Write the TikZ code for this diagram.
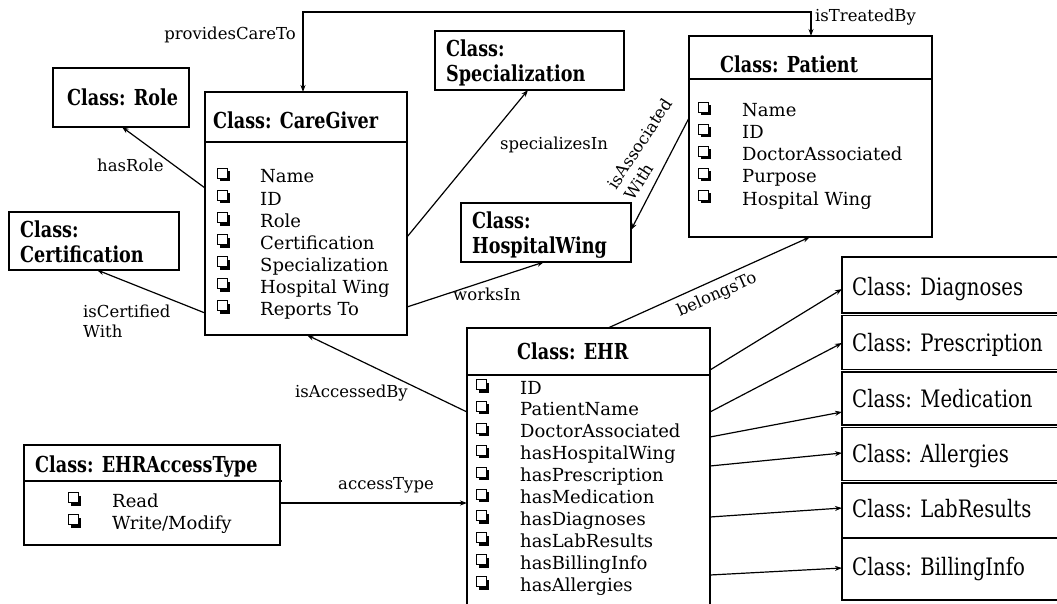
\documentclass[tikz,border=0pt]{standalone}
\usepackage{fontspec}
\setmainfont{DejaVu Serif}
\newfontfamily\tfont[FakeStretch=0.8]{DejaVu Serif}
\newfontfamily\rtfont[FakeStretch=0.82]{DejaVu Serif}
\usetikzlibrary{arrows.meta}
\newcommand{\bulletat}[2]{%
  \fill ({#1+3},{#2-11.5}) rectangle ({#1+13},{#2-1.5});
  \filldraw[fill=white, line width=1pt] ({#1+0.5},{#2-14.5}) rectangle ({#1+10.5},{#2-4.5});
}
\tikzset{
  box/.style={draw, line width=1.4pt, inner sep=0pt, outer sep=0pt, anchor=north west},
  ttl/.style={font=\tfont\bfseries\fontsize{22}{24}\selectfont, anchor=base west, inner sep=0pt},
  rttl/.style={font=\rtfont\fontsize{24}{26}\selectfont, anchor=base west, inner sep=0pt},
  item/.style={font=\fontsize{18}{22}\selectfont, anchor=base west, inner sep=0pt},
  lbl/.style={font=\fontsize{16.5}{20}\selectfont, inner sep=0pt},
  arr/.style={-{Stealth[length=7pt,width=5pt]}, line width=1.2pt},
  arrb/.style={{Stealth[length=7pt,width=5pt]}-{Stealth[length=7pt,width=5pt]}, line width=1.2pt},
  hline/.style={line width=1.4pt}
}
\begin{document}
\begin{tikzpicture}[x=1pt,y=-1pt]
\useasboundingbox (0,0) rectangle (1057,604);
\clip (0,0) rectangle (1057,604);

% ---- boxes ----
\node[box, minimum width=136pt, minimum height=59pt] (role) at (53,68) {};
\node[ttl] (roleT) at (67,106) {Class: Role};

\node[box, minimum width=170pt, minimum height=58pt] (cert) at (9,212) {};
\node[ttl] (certT1) at (20,237) {Class:};
\node[ttl] (certT2) at (20,262) {Certification};

\node[box, minimum width=202pt, minimum height=243pt] (cg) at (205,92) {};
\draw[hline] (cg.west |- 0,142) -- (cg.east |- 0,142);
\node[ttl] (cgT) at (213,129) {Class: CareGiver};
\foreach \t [count=\i] in {Name,ID,Role,Certification,Specialization,Hospital Wing,Reports To}{
  \pgfmathsetmacro\yy{161+22*\i}
  \bulletat{217}{\yy}
  \node[item] (cgi\i) at (260,\yy) {\t};
}

\node[box, minimum width=189pt, minimum height=59pt] (spec) at (435,31) {};
\node[ttl] (specT1) at (446,57) {Class:};
\node[ttl] (specT2) at (446,82) {Specialization};

\node[box, minimum width=170pt, minimum height=59pt] (hw) at (461,203) {};
\node[ttl] (hwT1) at (472,228) {Class:};
\node[ttl] (hwT2) at (472,253) {HospitalWing};

\node[box, minimum width=243pt, minimum height=201pt] (pat) at (689,36) {};
\draw[hline] (pat.west |- 0,79) -- (pat.east |- 0,79);
\node[ttl] (patT) at (720,73) {Class: Patient};
\foreach \t [count=\i] in {Name,ID,DoctorAssociated,Purpose,Hospital Wing}{
  \pgfmathsetmacro\yy{95+22*\i}
  \bulletat{698}{\yy}
  \node[item] (pati\i) at (742,\yy) {\t};
}

\node[box, minimum width=243pt, minimum height=290pt] (ehr) at (467,328) {};
\draw[hline] (ehr.west |- 0,375) -- (ehr.east |- 0,375);
\node[ttl] (ehrT) at (517,359) {Class: EHR};
\foreach \t [count=\i] in {ID,PatientName,DoctorAssociated,hasHospitalWing,hasPrescription,hasMedication,hasDiagnoses,hasLabResults,hasBillingInfo,hasAllergies}{
  \pgfmathsetmacro\yy{372.1+21.9*\i}
  \bulletat{476}{\yy}
  \node[item] (ehri\i) at (520,\yy) {\t};
}

\node[box, minimum width=256pt, minimum height=100pt] (acc) at (24,445) {};
\draw[hline] (acc.west |- 0,481) -- (282,481);
\node[ttl] (accT) at (35,472) {Class: EHRAccessType};
\bulletat{68}{507}
\node[item] (acci1) at (112,507) {Read};
\bulletat{68}{529}
\node[item] (acci2) at (112,529) {Write/Modify};

% right column
\node[box, minimum width=230pt, minimum height=56pt] (diag) at (842,257) {};
\node[box, minimum width=230pt, minimum height=54pt] (pres) at (842,315.5) {};
\node[box, minimum width=230pt, minimum height=53pt] (med) at (842,372) {};
\node[box, minimum width=230pt, minimum height=53pt] (all) at (842,427.5) {};
\node[box, minimum width=230pt, minimum height=55pt] (lab) at (842,483) {};
\node[box, minimum width=230pt, minimum height=62pt] (bill) at (842,538) {};
\node[rttl] (diagT) at (852,295) {Class: Diagnoses};
\node[rttl] (presT) at (852,351) {Class: Prescription};
\node[rttl] (medT) at (852,407) {Class: Medication};
\node[rttl] (allT) at (852,462) {Class: Allergies};
\node[rttl] (labT) at (852,517) {Class: LabResults};
\node[rttl] (billT) at (852,575) {Class: BillingInfo};

% ---- connectors ----
\draw[arrb] (pat.north -| 811,0) -- ++(0,-24) -| (cg.north -| 303,0);
\node[lbl, anchor=base east] (lPC) at (296,40) {providesCareTo};
\node[lbl, anchor=base west] (lTB) at (815,22) {isTreatedBy};

\draw[arr] (cg.west |- 0,188) -- (role.south -| 122,0);
\node[lbl, anchor=base west] (lHR) at (97,172) {hasRole};

\draw[arr] (cg.west |- 0,313) -- (cert.south -| 97,0);
\node[lbl, anchor=base west] (lIC1) at (83,317) {isCertified};
\node[lbl, anchor=base west] (lIC2) at (83,337) {With};

\draw[arr] (cg.east |- 0,237) -- (spec.south -| 528,0);
\node[lbl, anchor=base west] (lSI) at (500,150) {specializesIn};

\draw[arr] (cg.east |- 0,307) -- (hw.south -| 544,0);
\node[lbl, anchor=base west] (lWI) at (453,300) {worksIn};

\draw[arr] (pat.west |- 0,118) -- (hw.east |- 0,230);
\node[lbl, align=left, rotate=57] (lIA) at (648,149) {isAssociated\\With};

\draw[arr] (ehr.north -| 608,0) -- (pat.south -| 810,0);
\node[lbl, rotate=24] (lBT) at (717,295) {belongsTo};

\draw[arr] (ehr.west |- 0,412) -- (cg.south -| 307,0);
\node[lbl, anchor=base west] (lAB) at (295,397) {isAccessedBy};

\draw[arr] (acc.east |- 0,503) -- (ehr.west |- 0,503);
\node[lbl, anchor=base west] (lAT) at (338,489) {accessType};

\draw[arr] (ehr.east |- 0,370) -- (diag.west |- 0,289);
\draw[arr] (ehr.east |- 0,412) -- (pres.west |- 0,343);
\draw[arr] (ehr.east |- 0,437) -- (med.west |- 0,412);
\draw[arr] (ehr.east |- 0,466) -- (all.west |- 0,453);
\draw[arr] (ehr.east |- 0,517) -- (lab.west |- 0,508);
\draw[arr] (ehr.east |- 0,575) -- (bill.west |- 0,568);
\end{tikzpicture}
\end{document}
